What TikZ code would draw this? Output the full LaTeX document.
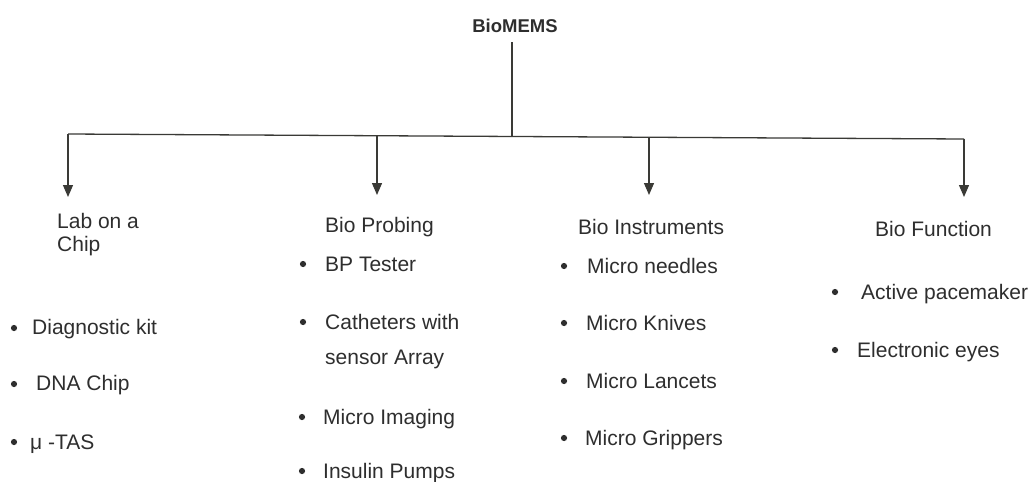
\documentclass[tikz,border=0pt]{standalone}
\usepackage{fontspec}
\setmainfont{Liberation Sans}
\usetikzlibrary{arrows.meta}
\definecolor{ink}{HTML}{2E2E2E}
\definecolor{wire}{HTML}{3A3A36}
\begin{document}
\begin{tikzpicture}[x=1pt,y=-1pt,
  txt/.style={anchor=west, inner sep=0pt, text=ink, align=left,
    font=\fontsize{21}{23}\selectfont, text height=15pt, text depth=0pt},
  conn/.style={draw=wire, line width=1.3pt},
  arr/.style={conn, -{Triangle[length=12pt,width=10pt]}},
  dot/.style={circle, fill=ink, inner sep=0pt, minimum size=6.2pt}]
\useasboundingbox (0,0) rectangle (1031,482);
\fill[white] (0,0) rectangle (1031,482);

% root
\node[anchor=center, inner sep=0pt, text=ink, font=\bfseries\fontsize{18.5}{21}\selectfont] (root) at (515,26) {BioMEMS};
\coordinate (rb) at (512,42);
\coordinate (bus) at (512,137);
\coordinate (j1) at (68,134);
\coordinate (j2) at (377,135.5);
\coordinate (j3) at (649,137.5);
\coordinate (j4) at (964,139);
\coordinate (t1) at (68,197);
\coordinate (t2) at (377,195);
\coordinate (t3) at (649,195);
\coordinate (t4) at (964,197);

\draw[conn] (rb) -- (bus);
\draw[conn] (j1) -- (j4);
\draw[arr] (j1) -- (t1);
\draw[arr] (j2) -- (t2);
\draw[arr] (j3) -- (t3);
\draw[arr] (j4) -- (t4);

% category headings
\node[txt] (lab) at (57,243.5) {Lab on a\\Chip};
\node[txt] (probe) at (325,225) {Bio Probing};
\node[txt] (instr) at (578,227) {Bio Instruments};
\node[txt] (func) at (875,229) {Bio Function};

% column 1
\node[dot] (d11) at (14,328) {};
\node[txt] (i11) at (32,327) {Diagnostic kit};
\node[dot] (d12) at (14,384) {};
\node[txt] (i12) at (36,383) {DNA Chip};
\node[dot] (d13) at (14,442) {};
\node[txt] (i13) at (30,442) {μ -TAS};

% column 2
\node[dot] (d21) at (303,264) {};
\node[txt] (i21) at (325,264) {BP Tester};
\node[dot] (d22) at (303,322) {};
\node[txt, font=\fontsize{21}{35}\selectfont] (i22) at (325,356.5) {Catheters with\\sensor Array};
\node[dot] (d23) at (302,417) {};
\node[txt] (i23) at (323,417) {Micro Imaging};
\node[dot] (d24) at (302,471) {};
\node[txt] (i24) at (323,471) {Insulin Pumps};

% column 3
\node[dot] (d31) at (564,266) {};
\node[txt] (i31) at (587,266) {Micro needles};
\node[dot] (d32) at (564,323) {};
\node[txt] (i32) at (586,323) {Micro Knives};
\node[dot] (d33) at (564,381) {};
\node[txt] (i33) at (586,381) {Micro Lancets};
\node[dot] (d34) at (564,438) {};
\node[txt] (i34) at (585,438) {Micro Grippers};

% column 4
\node[dot] (d41) at (835,292) {};
\node[txt] (i41) at (861,292) {Active pacemaker};
\node[dot] (d42) at (835,350) {};
\node[txt] (i42) at (857,350) {Electronic eyes};
\end{tikzpicture}
\end{document}
